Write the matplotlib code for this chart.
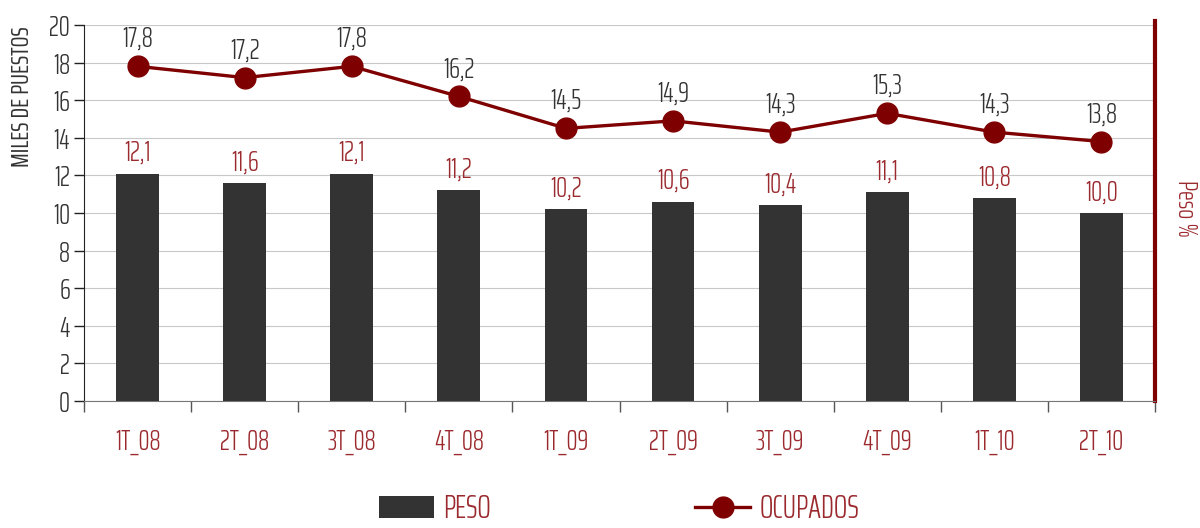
import matplotlib
matplotlib.use("Agg")
import matplotlib.pyplot as plt
from matplotlib.lines import Line2D
from matplotlib.patches import Patch
import numpy as np

categories = ["1T_08", "2T_08", "3T_08", "4T_08", "1T_09", "2T_09", "3T_09", "4T_09", "1T_10", "2T_10"]
peso = [12.1, 11.6, 12.1, 11.2, 10.2, 10.6, 10.4, 11.1, 10.8, 10.0]
ocupados = [17.8, 17.2, 17.8, 16.2, 14.5, 14.9, 14.3, 15.3, 14.3, 13.8]
yticks = [0, 2, 4, 6, 8, 10, 12, 14, 16, 18, 20]

plt.rcParams["font.family"] = ["Saira ExtraCondensed", "DejaVu Sans"]
plt.rcParams["font.stretch"] = "condensed"
plt.rcParams["font.weight"] = 300

RED = "#7f0000"
TXTRED = "#9b2a2e"
DARK = "#333333"
FS = 20

fig = plt.figure(figsize=(12, 5.28), dpi=100)
ax = fig.add_axes([0.07, 0.2405, 0.8925, 0.7122])

x = np.arange(len(categories))
ax.bar(x, peso, width=0.4, color=DARK, zorder=3)
ax.plot(x, ocupados, color=RED, lw=2.4, marker="o", ms=15, zorder=4)

def fmt(v):
    return f"{v:.1f}".replace(".", ",")

for xi, v in zip(x, peso):
    ax.text(xi, v + 0.35, fmt(v), ha="center", va="bottom", color=TXTRED, fontsize=FS)
for xi, v in zip(x, ocupados):
    ax.text(xi, v + 0.7, fmt(v), ha="center", va="bottom", color=DARK, fontsize=FS)

ax.set_xlim(-0.5, len(categories) - 0.5)
ax.set_ylim(0, 20)
ax.set_yticks(yticks)
ax.set_yticklabels([str(t) for t in yticks], fontsize=FS, color=DARK)
ax.set_xticks(x)
ax.set_xticklabels(categories, fontsize=FS, color=TXTRED)
ax.tick_params(axis="x", length=0, pad=19)
ax.set_xticks(np.arange(len(categories) + 1) - 0.5, minor=True)
ax.tick_params(axis="x", which="minor", length=8, color="#555555", width=1)
ax.tick_params(axis="y", length=7, color="#222222", width=1, pad=3)

ax.grid(axis="y", color="#c8c8c8", lw=0.8, zorder=0)
ax.set_axisbelow(True)
ax.spines["top"].set_visible(False)
ax.spines["left"].set_color("#222222")
ax.spines["bottom"].set_color("#777777")
ax.spines["right"].set_color(RED)
ax.spines["right"].set_linewidth(3)
ax.spines["right"].set_bounds(0, 20.2)

ax.set_ylabel("MILES DE PUESTOS", fontsize=18.5, color=DARK)
ax.yaxis.set_label_coords(-0.047, 0.81)
fig.text(0.988, 0.606, "Peso %", rotation=-90, ha="center", va="center", fontsize=19, color=TXTRED)

handles = [Patch(facecolor=DARK, edgecolor="none"),
           Line2D([0], [0], color=RED, lw=2.4, marker="o", ms=15)]
leg = fig.legend(handles, ["PESO", "OCUPADOS"], loc="lower center", bbox_to_anchor=(0.516, -0.047),
                 ncol=2, frameon=False, fontsize=23, columnspacing=6.4, handlelength=1.7,
                 handletextpad=0.3)
for t in leg.get_texts():
    t.set_color(TXTRED)

fig.savefig("out.png", dpi=100)
